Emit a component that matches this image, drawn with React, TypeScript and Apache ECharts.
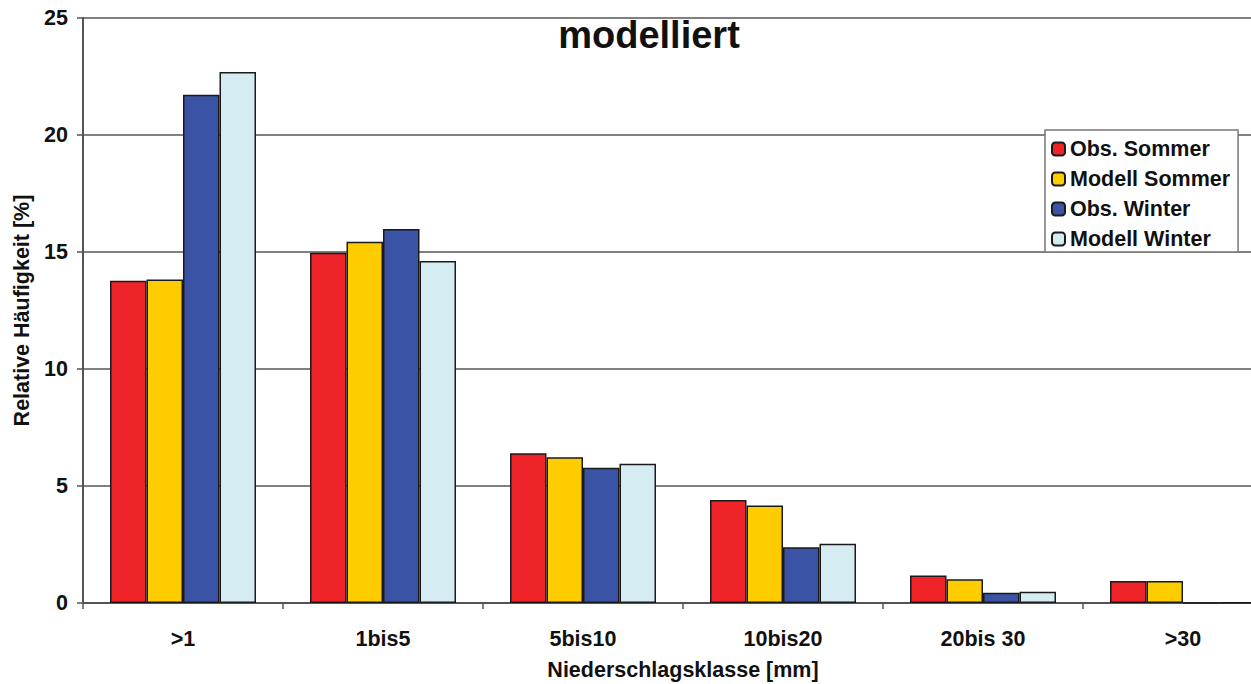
import React, { useEffect, useRef } from "react";
import * as echarts from "echarts";

const categories = [">1", "1bis5", "5bis10", "10bis20", "20bis 30", ">30"];
const obsSommer = [13.77, 14.97, 6.4, 4.4, 1.17, 0.94];
const modellSommer = [13.82, 15.44, 6.23, 4.17, 1.01, 0.94];
const obsWinter = [21.72, 15.98, 5.78, 2.38, 0.44, 0];
const modellWinter = [22.69, 14.62, 5.95, 2.53, 0.48, 0.02];
const seriesNames = ["Obs. Sommer", "Modell Sommer", "Obs. Winter", "Modell Winter"];
const seriesColors = ["#EE2428", "#FFCC00", "#3A53A4", "#D4ECF2"];
const yTicks = [0, 5, 10, 15, 20, 25];

const FONT = "'Liberation Sans', Arial, sans-serif";
const FS = 21.5;

export default function App() {
  const ref = useRef<HTMLDivElement>(null);
  useEffect(() => {
    if (!ref.current) return;
    const chart = echarts.init(ref.current, null, { renderer: "svg" });
    const data = [obsSommer, modellSommer, obsWinter, modellWinter];
    chart.setOption({
      animation: false,
      backgroundColor: "#ffffff",
      title: {
        text: "modelliert",
        left: 644,
        textAlign: "center",
        top: 11,
        textStyle: { fontFamily: FONT, fontSize: 38, fontWeight: "bold", color: "#111" },
      },
      legend: {
        orient: "vertical",
        left: 1045,
        top: 130,
        padding: [8, 8, 2, 6],
        itemGap: 8,
        itemWidth: 13,
        itemHeight: 13,
        backgroundColor: "#ffffff",
        borderColor: "#777",
        borderWidth: 1.5,
        data: seriesNames,
        textStyle: { fontFamily: FONT, fontSize: FS, lineHeight: 20, fontWeight: "bold", color: "#111" },
        z: 10,
      },
      grid: { left: 83, top: 18, bottom: 81, right: 17, containLabel: false, outerBoundsMode: "none" },
      xAxis: {
        type: "category",
        data: categories,
        name: "Niederschlagsklasse [mm]",
        nameLocation: "middle",
        nameGap: 56,
        nameTextStyle: { fontFamily: FONT, fontSize: FS, fontWeight: "bold", color: "#111" },
        axisLine: { lineStyle: { color: "#555", width: 2 } },
        axisTick: { show: true, alignWithLabel: false, length: 6, lineStyle: { color: "#555", width: 1.5 } },
        axisLabel: { fontFamily: FONT, fontSize: FS, fontWeight: "bold", color: "#111", margin: 25 },
      },
      yAxis: {
        type: "value",
        min: 0,
        max: 25,
        interval: 5,
        name: "Relative Häufigkeit [%]",
        nameLocation: "middle",
        nameGap: 49,
        nameRotate: 90,
        nameTextStyle: { fontFamily: FONT, fontSize: FS, fontWeight: "bold", color: "#111" },
        axisLine: { show: true, lineStyle: { color: "#555", width: 2 } },
        axisTick: { show: true, length: 6, lineStyle: { color: "#555", width: 1.5 } },
        axisLabel: {
          fontFamily: FONT,
          fontSize: FS,
          fontWeight: "bold",
          color: "#111",
          margin: 15,
          formatter: (v: number) => (yTicks.includes(v) ? String(v) : ""),
        },
        splitLine: { show: true, lineStyle: { color: "#808080", width: 2 } },
      },
      series: seriesNames.map((name, i) => ({
        name,
        type: "bar",
        data: data[i],
        barWidth: 36.5,
        barGap: "0%",
        barCategoryGap: "27%",
        itemStyle: { color: seriesColors[i], borderColor: "#1a1a1a", borderWidth: 1.5 },
      })),
    });
    return () => chart.dispose();
  }, []);
  return (
    <div style={{ position: "fixed", left: 0, top: 0, width: 1251, height: 684, overflow: "hidden" }}>
      <div ref={ref} style={{ width: 1300, height: 684 }} />
    </div>
  );
}
